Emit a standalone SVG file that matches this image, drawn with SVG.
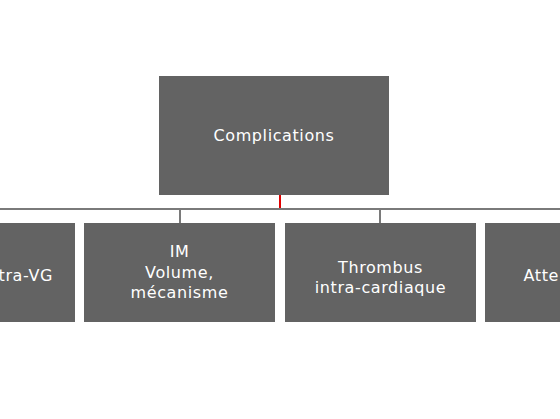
<svg xmlns="http://www.w3.org/2000/svg" width="560" height="419" viewBox="0 0 560 419">
<style>
.box{fill:#636363}
.t{fill:#ffffff;font-family:"DejaVu Sans","Open Sans",sans-serif;font-size:16px;letter-spacing:0.6px;text-anchor:middle}
.c{stroke:#7a7a7a;stroke-width:2;fill:none}
</style>
<rect width="560" height="419" fill="#ffffff"/>
<g id="connectors">
<line class="c" x1="0" y1="209" x2="560" y2="209"/>
<line class="c" x1="180" y1="209" x2="180" y2="223"/>
<line class="c" x1="380" y1="209" x2="380" y2="223"/>
<line x1="280" y1="195" x2="280" y2="208" stroke="#e00000" stroke-width="2"/>
</g>
<g id="complications">
<rect class="box" x="159" y="76" width="230" height="119"/>
<text class="t" x="274" y="140.5">Complications</text>
</g>
<g id="node-intra-vg">
<rect class="box" x="-116" y="223" width="191" height="99"/>
<text class="t" x="53" y="280.5" style="text-anchor:end">tra-VG</text>
</g>
<g id="node-im">
<rect class="box" x="84" y="223" width="191" height="99"/>
<text class="t" x="179.5" y="256.5">IM</text>
<text class="t" x="179.5" y="277.5">Volume,</text>
<text class="t" x="179.5" y="298">mécanisme</text>
</g>
<g id="node-thrombus">
<rect class="box" x="285" y="223" width="191" height="99"/>
<text class="t" x="380.5" y="272.5">Thrombus</text>
<text class="t" x="380.5" y="293">intra-cardiaque</text>
</g>
<g id="node-atte">
<rect class="box" x="485" y="223" width="191" height="99"/>
<text class="t" x="559" y="280.5" style="text-anchor:end">Atte</text>
</g>
</svg>
